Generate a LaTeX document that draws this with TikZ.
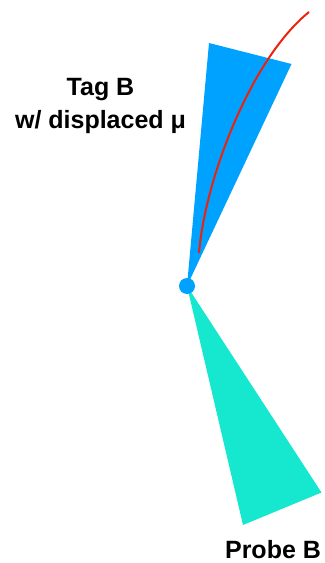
\documentclass[tikz,border=0pt]{standalone}
\usepackage{fontspec}
\setmainfont{Liberation Sans}
\definecolor{tagblue}{RGB}{0,162,255}
\definecolor{probecyan}{RGB}{22,231,207}
\definecolor{muonred}{RGB}{238,34,12}

\begin{document}
\begin{tikzpicture}[x=1bp,y=-1bp,
    lbl/.style={font=\bfseries\fontsize{25bp}{30bp}\selectfont, inner sep=0pt, anchor=base}]
  \useasboundingbox (0,0) rectangle (324,563);

  % jets
  \fill[tagblue] (187,286) -- (209,43) -- (291.5,64) -- cycle;
  \fill[probecyan] (187,286) -- (243,525) -- (321.5,492.5) -- cycle;

  % muon track
  \draw[muonred, line width=2bp] (199,253) .. controls (205,180) and (250,60) .. (309,12);

  \node[circle, fill=tagblue, minimum size=16bp, inner sep=0pt] (vtx) at (187,286) {};

  \node[lbl] (tag) at (100.5,95.5) {Tag B};
  \node[lbl] (disp) at (100.5,129) {w/ displaced μ};
  \node[lbl] (probe) at (273,558) {Probe B};
\end{tikzpicture}
\end{document}
